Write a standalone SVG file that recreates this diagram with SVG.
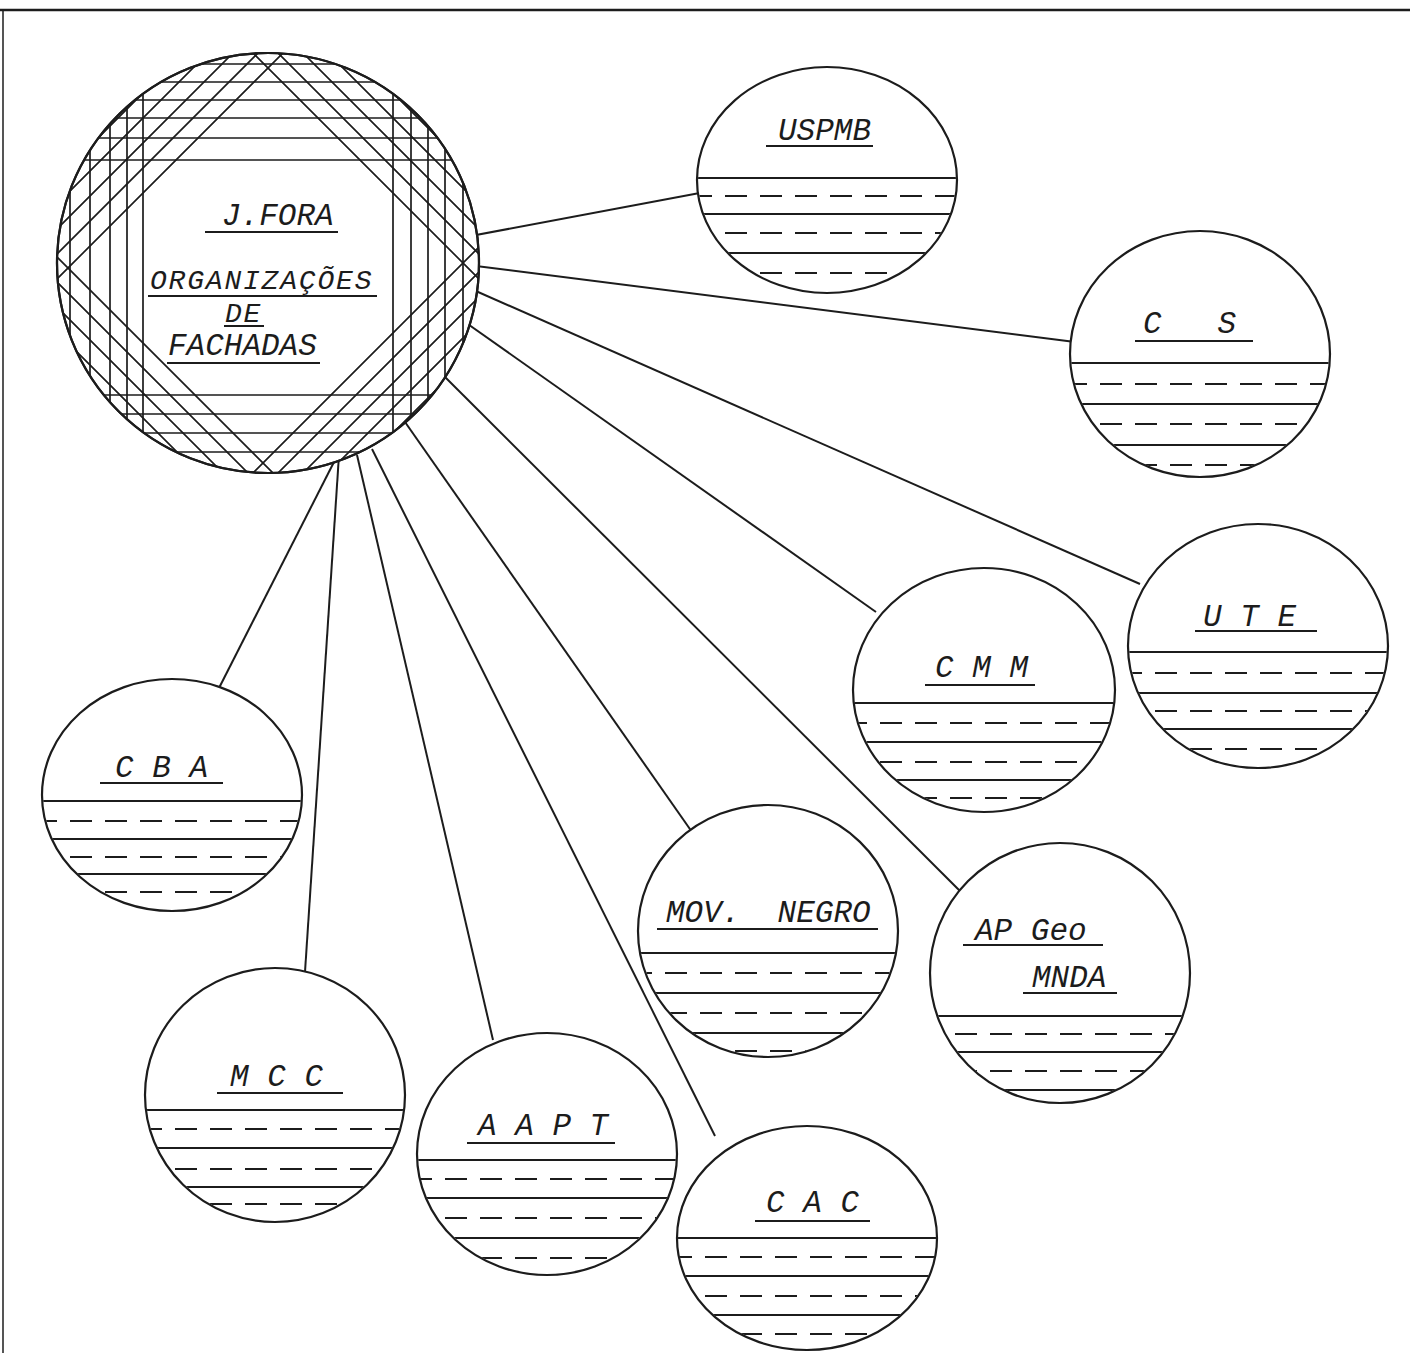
<svg xmlns="http://www.w3.org/2000/svg" width="1410" height="1353" viewBox="0 0 1410 1353">
<style>
.frame{stroke:#1c1c1c;fill:none}
#connectors line{stroke:#1c1c1c;stroke-width:2}
.o{fill:#fff;stroke:#1c1c1c;stroke-width:2.2}
.s{stroke:#1c1c1c;stroke-width:2}
.d{stroke:#1c1c1c;stroke-width:2;stroke-dasharray:22 13}
.h{stroke:#1c1c1c;stroke-width:1.7;fill:none}
.lbl{font-family:"Liberation Mono","DejaVu Sans Mono",monospace;font-style:italic;font-size:31px;fill:#1c1c1c}
.sm{font-size:28px;letter-spacing:1.8px}
.u{stroke:#1c1c1c;stroke-width:2.2}
</style>
<defs>
<clipPath id="c-main"><ellipse cx="268" cy="263" rx="211" ry="210"/></clipPath>
<clipPath id="c-uspmb"><ellipse cx="827" cy="180" rx="129" ry="112"/></clipPath>
<clipPath id="c-cs"><ellipse cx="1200" cy="354" rx="129" ry="122"/></clipPath>
<clipPath id="c-ute"><ellipse cx="1258" cy="646" rx="129" ry="121"/></clipPath>
<clipPath id="c-cmm"><ellipse cx="984" cy="690" rx="130" ry="121"/></clipPath>
<clipPath id="c-cba"><ellipse cx="172" cy="795" rx="129" ry="115"/></clipPath>
<clipPath id="c-mov"><ellipse cx="768" cy="931" rx="129" ry="125"/></clipPath>
<clipPath id="c-apgeo"><ellipse cx="1060" cy="973" rx="129" ry="129"/></clipPath>
<clipPath id="c-mcc"><ellipse cx="275" cy="1095" rx="129" ry="126"/></clipPath>
<clipPath id="c-aapt"><ellipse cx="547" cy="1154" rx="129" ry="120"/></clipPath>
<clipPath id="c-cac"><ellipse cx="807" cy="1238" rx="129" ry="111"/></clipPath>
</defs>

<g id="frame">
<line class="frame" x1="0" y1="10" x2="1410" y2="10" stroke-width="2.5"/>
<line class="frame" x1="3" y1="10" x2="3" y2="1353" stroke-width="1.5"/>
</g>

<g id="connectors">
<line x1="460" y1="238" x2="705" y2="192"/>
<line x1="460" y1="264" x2="1075" y2="342"/>
<line x1="460" y1="284" x2="1140" y2="584"/>
<line x1="455" y1="315" x2="876" y2="612"/>
<line x1="440" y1="372" x2="960" y2="891"/>
<line x1="405" y1="422" x2="692" y2="832"/>
<line x1="372" y1="449" x2="715" y2="1136"/>
<line x1="357" y1="455" x2="493" y2="1040"/>
<line x1="339" y1="455" x2="305" y2="972"/>
<line x1="335" y1="460" x2="218" y2="690"/>
</g>

<g id="n-main">
<ellipse class="o" cx="268" cy="263" rx="211" ry="210"/>
<g clip-path="url(#c-main)" class="h">
<path d="M40 64H500M40 82H500M40 100H500M40 118H500M40 138H500M40 160H500M40 395H500M40 414H500M40 433H500M40 452H500"/>
<path d="M70 40V500M90 40V500M110 40V500M127 40V500M143 40V500M393 40V500M411 40V500M428 40V500M445 40V500M463 40V500"/>
<path d="M336 0L-164 500M311 0L-189 500M286 0L-214 500M261 0L-239 500M236 0L-264 500"/>
<path d="M200 0L700 500M225 0L725 500M250 0L750 500M275 0L775 500M300 0L800 500"/>
<path d="M-200 0L300 500M-225 0L275 500M-250 0L250 500M-275 0L225 500M-300 0L200 500"/>
<path d="M726 0L226 500M751 0L251 500M776 0L276 500M801 0L301 500M826 0L326 500"/>
</g>
<ellipse cx="268" cy="263" rx="211" ry="210" fill="none" stroke="#1c1c1c" stroke-width="2.2"/>
<text class="lbl" x="222" y="225">J.FORA</text>
<line class="u" x1="205" y1="232" x2="338" y2="232"/>
<text class="lbl sm" x="150" y="289">ORGANIZAÇÕES</text>
<line class="u" x1="148" y1="296" x2="377" y2="296"/>
<text class="lbl sm" x="225" y="322">DE</text>
<line class="u" x1="224" y1="326" x2="264" y2="326"/>
<text class="lbl" x="168" y="355">FACHADAS</text>
<line class="u" x1="167" y1="363" x2="320" y2="363"/>
</g>

<g id="n-uspmb">
<ellipse class="o" cx="827" cy="180" rx="130" ry="113"/>
<g clip-path="url(#c-uspmb)">
<line class="s" x1="690" y1="178" x2="965" y2="178"/>
<line class="d" x1="690" y1="196" x2="965" y2="196"/>
<line class="s" x1="690" y1="214" x2="965" y2="214"/>
<line class="d" x1="690" y1="233" x2="965" y2="233"/>
<line class="s" x1="690" y1="253" x2="965" y2="253"/>
<line class="d" x1="690" y1="273" x2="965" y2="273"/>
</g>
<text class="lbl" x="778" y="140">USPMB</text>
<line class="u" x1="766" y1="146" x2="873" y2="146"/>
</g>

<g id="n-cs">
<ellipse class="o" cx="1200" cy="354" rx="130" ry="123"/>
<g clip-path="url(#c-cs)">
<line class="s" x1="1065" y1="363" x2="1335" y2="363"/>
<line class="d" x1="1065" y1="384" x2="1335" y2="384"/>
<line class="s" x1="1065" y1="404" x2="1335" y2="404"/>
<line class="d" x1="1065" y1="424" x2="1335" y2="424"/>
<line class="s" x1="1065" y1="445" x2="1335" y2="445"/>
<line class="d" x1="1065" y1="465" x2="1335" y2="465"/>
</g>
<text class="lbl" x="1143" y="333" xml:space="preserve">C   S</text>
<line class="u" x1="1135" y1="341" x2="1253" y2="341"/>
</g>

<g id="n-ute">
<ellipse class="o" cx="1258" cy="646" rx="130" ry="122"/>
<g clip-path="url(#c-ute)">
<line class="s" x1="1120" y1="652" x2="1395" y2="652"/>
<line class="d" x1="1120" y1="673" x2="1395" y2="673"/>
<line class="s" x1="1120" y1="693" x2="1395" y2="693"/>
<line class="d" x1="1120" y1="711" x2="1395" y2="711"/>
<line class="s" x1="1120" y1="729" x2="1395" y2="729"/>
<line class="d" x1="1120" y1="749" x2="1395" y2="749"/>
</g>
<text class="lbl" x="1203" y="626">U T E</text>
<line class="u" x1="1195" y1="631" x2="1317" y2="631"/>
</g>

<g id="n-cmm">
<ellipse class="o" cx="984" cy="690" rx="131" ry="122"/>
<g clip-path="url(#c-cmm)">
<line class="s" x1="845" y1="703" x2="1120" y2="703"/>
<line class="d" x1="845" y1="723" x2="1120" y2="723"/>
<line class="s" x1="845" y1="742" x2="1120" y2="742"/>
<line class="d" x1="845" y1="762" x2="1120" y2="762"/>
<line class="s" x1="845" y1="780" x2="1120" y2="780"/>
<line class="d" x1="845" y1="798" x2="1120" y2="798"/>
</g>
<text class="lbl" x="935" y="677">C M M</text>
<line class="u" x1="925" y1="685" x2="1035" y2="685"/>
</g>

<g id="n-cba">
<ellipse class="o" cx="172" cy="795" rx="130" ry="116"/>
<g clip-path="url(#c-cba)">
<line class="s" x1="35" y1="801" x2="310" y2="801"/>
<line class="d" x1="35" y1="821" x2="310" y2="821"/>
<line class="s" x1="35" y1="839" x2="310" y2="839"/>
<line class="d" x1="35" y1="857" x2="310" y2="857"/>
<line class="s" x1="35" y1="874" x2="310" y2="874"/>
<line class="d" x1="35" y1="892" x2="310" y2="892"/>
</g>
<text class="lbl" x="115" y="777">C B A</text>
<line class="u" x1="100" y1="783" x2="223" y2="783"/>
</g>

<g id="n-mov">
<ellipse class="o" cx="768" cy="931" rx="130" ry="126"/>
<g clip-path="url(#c-mov)">
<line class="s" x1="630" y1="953" x2="905" y2="953"/>
<line class="d" x1="630" y1="973" x2="905" y2="973"/>
<line class="s" x1="630" y1="993" x2="905" y2="993"/>
<line class="d" x1="630" y1="1013" x2="905" y2="1013"/>
<line class="s" x1="630" y1="1033" x2="905" y2="1033"/>
<line class="d" x1="630" y1="1051" x2="905" y2="1051"/>
</g>
<text class="lbl" x="666" y="922" xml:space="preserve">MOV.  NEGRO</text>
<line class="u" x1="657" y1="929" x2="878" y2="929"/>
</g>

<g id="n-apgeo">
<ellipse class="o" cx="1060" cy="973" rx="130" ry="130"/>
<g clip-path="url(#c-apgeo)">
<line class="s" x1="920" y1="1016" x2="1200" y2="1016"/>
<line class="d" x1="920" y1="1034" x2="1200" y2="1034"/>
<line class="s" x1="920" y1="1052" x2="1200" y2="1052"/>
<line class="d" x1="920" y1="1071" x2="1200" y2="1071"/>
<line class="s" x1="920" y1="1090" x2="1200" y2="1090"/>
</g>
<text class="lbl" x="975" y="940">AP Geo</text>
<line class="u" x1="963" y1="945" x2="1103" y2="945"/>
<text class="lbl" x="1032" y="987">MNDA</text>
<line class="u" x1="1023" y1="993" x2="1117" y2="993"/>
</g>

<g id="n-mcc">
<ellipse class="o" cx="275" cy="1095" rx="130" ry="127"/>
<g clip-path="url(#c-mcc)">
<line class="s" x1="140" y1="1110" x2="410" y2="1110"/>
<line class="d" x1="140" y1="1129" x2="410" y2="1129"/>
<line class="s" x1="140" y1="1148" x2="410" y2="1148"/>
<line class="d" x1="140" y1="1169" x2="410" y2="1169"/>
<line class="s" x1="140" y1="1187" x2="410" y2="1187"/>
<line class="d" x1="140" y1="1204" x2="410" y2="1204"/>
</g>
<text class="lbl" x="230" y="1086">M C C</text>
<line class="u" x1="217" y1="1093" x2="343" y2="1093"/>
</g>

<g id="n-aapt">
<ellipse class="o" cx="547" cy="1154" rx="130" ry="121"/>
<g clip-path="url(#c-aapt)">
<line class="s" x1="410" y1="1160" x2="685" y2="1160"/>
<line class="d" x1="410" y1="1179" x2="685" y2="1179"/>
<line class="s" x1="410" y1="1198" x2="685" y2="1198"/>
<line class="d" x1="410" y1="1218" x2="685" y2="1218"/>
<line class="s" x1="410" y1="1238" x2="685" y2="1238"/>
<line class="d" x1="410" y1="1258" x2="685" y2="1258"/>
</g>
<text class="lbl" x="478" y="1135">A A P T</text>
<line class="u" x1="467" y1="1143" x2="615" y2="1143"/>
</g>

<g id="n-cac">
<ellipse class="o" cx="807" cy="1238" rx="130" ry="112"/>
<g clip-path="url(#c-cac)">
<line class="s" x1="670" y1="1238" x2="945" y2="1238"/>
<line class="d" x1="670" y1="1257" x2="945" y2="1257"/>
<line class="s" x1="670" y1="1276" x2="945" y2="1276"/>
<line class="d" x1="670" y1="1296" x2="945" y2="1296"/>
<line class="s" x1="670" y1="1315" x2="945" y2="1315"/>
<line class="d" x1="670" y1="1334" x2="945" y2="1334"/>
</g>
<text class="lbl" x="766" y="1212">C A C</text>
<line class="u" x1="755" y1="1221" x2="870" y2="1221"/>
</g>
</svg>
